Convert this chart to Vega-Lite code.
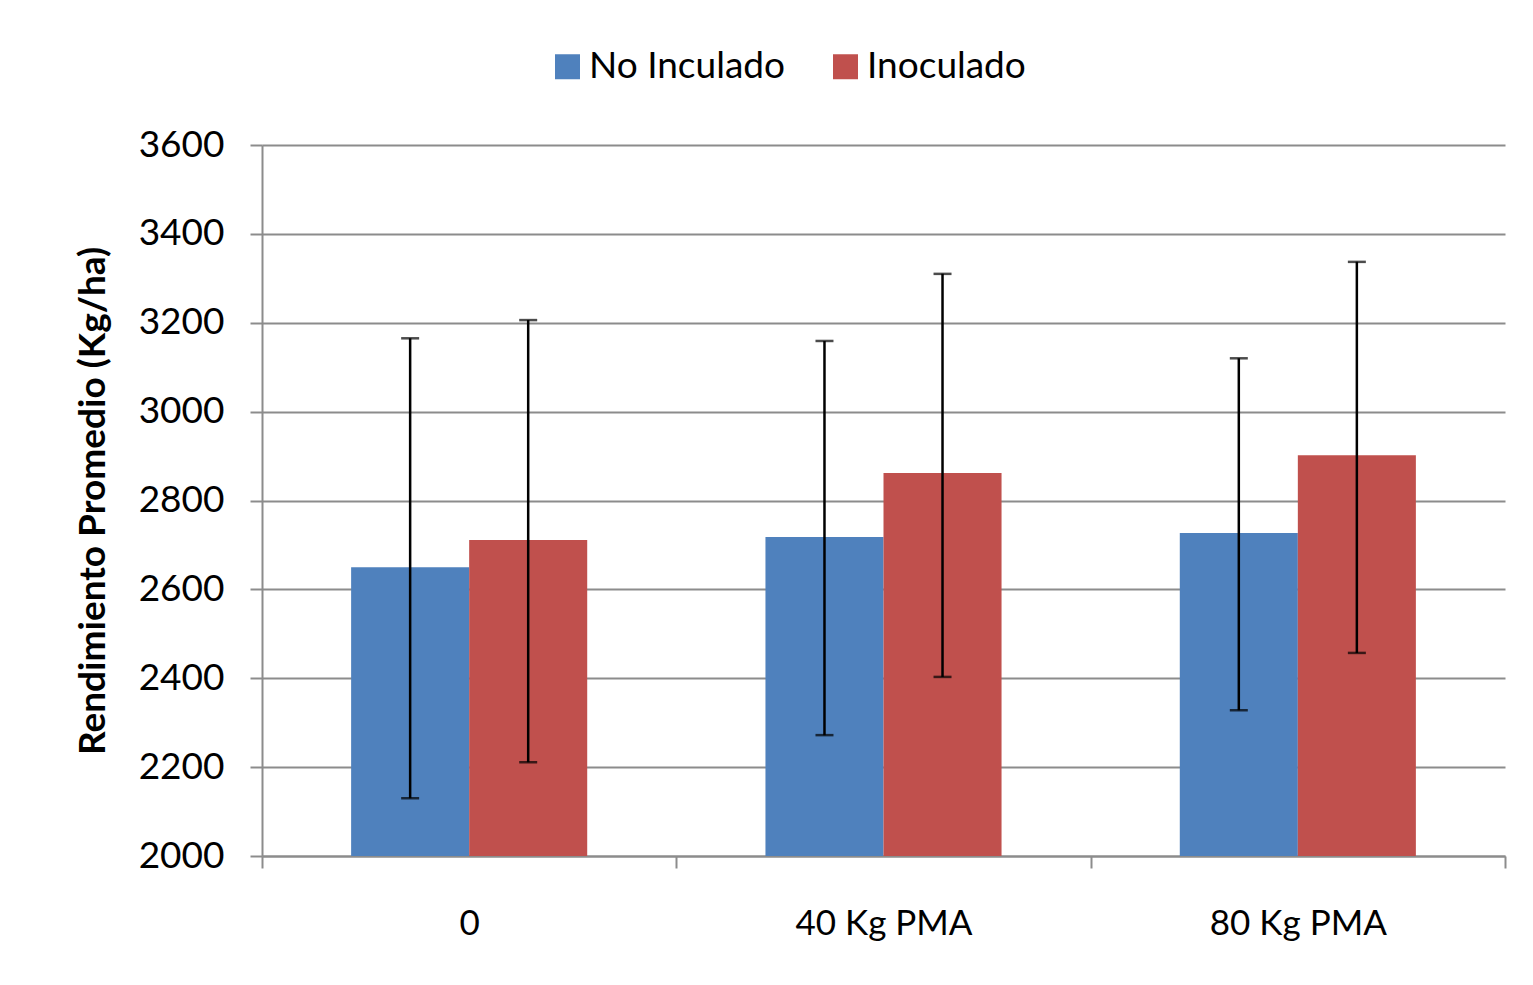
{
  "$schema": "https://vega.github.io/schema/vega-lite/v6.json",
  "width": 1243,
  "height": 711,
  "autosize": {"type": "none"},
  "padding": {"left": 262, "top": 145, "right": 28, "bottom": 129},
  "background": "white",
  "config": {
    "view": {"stroke": null},
    "font": "Lato",
    "axis": {"labelFont": "Lato", "titleFont": "Lato", "labelColor": "#000000", "titleColor": "#000000"},
    "legend": {"labelFont": "Lato", "labelColor": "#000000"}
  },
  "data": {
    "values": [
      {"cat": "0", "group": "No Inculado", "value": 2650, "lo": 2130, "hi": 3165},
      {"cat": "0", "group": "Inoculado", "value": 2711, "lo": 2211, "hi": 3206},
      {"cat": "40 Kg PMA", "group": "No Inculado", "value": 2718, "lo": 2272, "hi": 3159},
      {"cat": "40 Kg PMA", "group": "Inoculado", "value": 2862, "lo": 2403, "hi": 3310},
      {"cat": "80 Kg PMA", "group": "No Inculado", "value": 2727, "lo": 2328, "hi": 3120},
      {"cat": "80 Kg PMA", "group": "Inoculado", "value": 2902, "lo": 2457, "hi": 3337}
    ]
  },
  "encoding": {
    "x": {
      "field": "cat",
      "type": "nominal",
      "sort": ["0", "40 Kg PMA", "80 Kg PMA"],
      "scale": {"paddingInner": 0, "paddingOuter": 0},
      "axis": {
        "title": null,
        "labelAngle": 0,
        "tickBand": "extent",
        "ticks": true,
        "tickSize": 12,
        "tickColor": "#8c8c8c",
        "tickWidth": 2,
        "domainColor": "#8c8c8c",
        "domainWidth": 2,
        "labelFontSize": 35,
        "labelPadding": 38,
        "grid": false
      }
    },
    "xOffset": {
      "field": "group",
      "sort": ["No Inculado", "Inoculado"],
      "scale": {"paddingInner": 0, "paddingOuter": 0.755}
    }
  },
  "layer": [
    {
      "mark": {"type": "bar"},
      "encoding": {
        "y": {
          "field": "value",
          "type": "quantitative",
          "scale": {"domain": [2000, 3600], "zero": false, "nice": false},
          "axis": {
            "values": [2000, 2200, 2400, 2600, 2800, 3000, 3200, 3400, 3600],
            "format": "d",
            "grid": true,
            "gridColor": "#8c8c8c",
            "gridWidth": 2,
            "tickSize": 12,
            "tickColor": "#8c8c8c",
            "tickWidth": 2,
            "domainColor": "#8c8c8c",
            "domainWidth": 2,
            "labelFontSize": 37,
            "labelPadding": 26,
            "title": "Rendimiento Promedio (Kg/ha)",
            "titleFontSize": 37,
            "titleFontWeight": "bold",
            "titlePadding": 26
          }
        },
        "y2": {"datum": 2000},
        "color": {
          "field": "group",
          "type": "nominal",
          "scale": {"domain": ["No Inculado", "Inoculado"], "range": ["#4F81BD", "#C0504D"]},
          "legend": {
            "orient": "none",
            "legendX": 287,
            "legendY": -97,
            "direction": "horizontal",
            "title": null,
            "symbolType": "square",
            "symbolSize": 625,
            "symbolStrokeWidth": 0,
            "labelFontSize": 37,
            "labelLimit": 400,
            "labelOffset": 3,
            "columnPadding": 42
          }
        }
      }
    },
    {
      "mark": {"type": "rule", "color": "#000000", "strokeWidth": 2.5},
      "encoding": {
        "y": {"field": "lo", "type": "quantitative"},
        "y2": {"field": "hi"}
      }
    },
    {
      "mark": {"type": "tick", "color": "#000000", "size": 18, "thickness": 2.5, "orient": "horizontal"},
      "encoding": {
        "y": {"field": "lo", "type": "quantitative"}
      }
    },
    {
      "mark": {"type": "tick", "color": "#000000", "size": 18, "thickness": 2.5, "orient": "horizontal"},
      "encoding": {
        "y": {"field": "hi", "type": "quantitative"}
      }
    }
  ]
}
